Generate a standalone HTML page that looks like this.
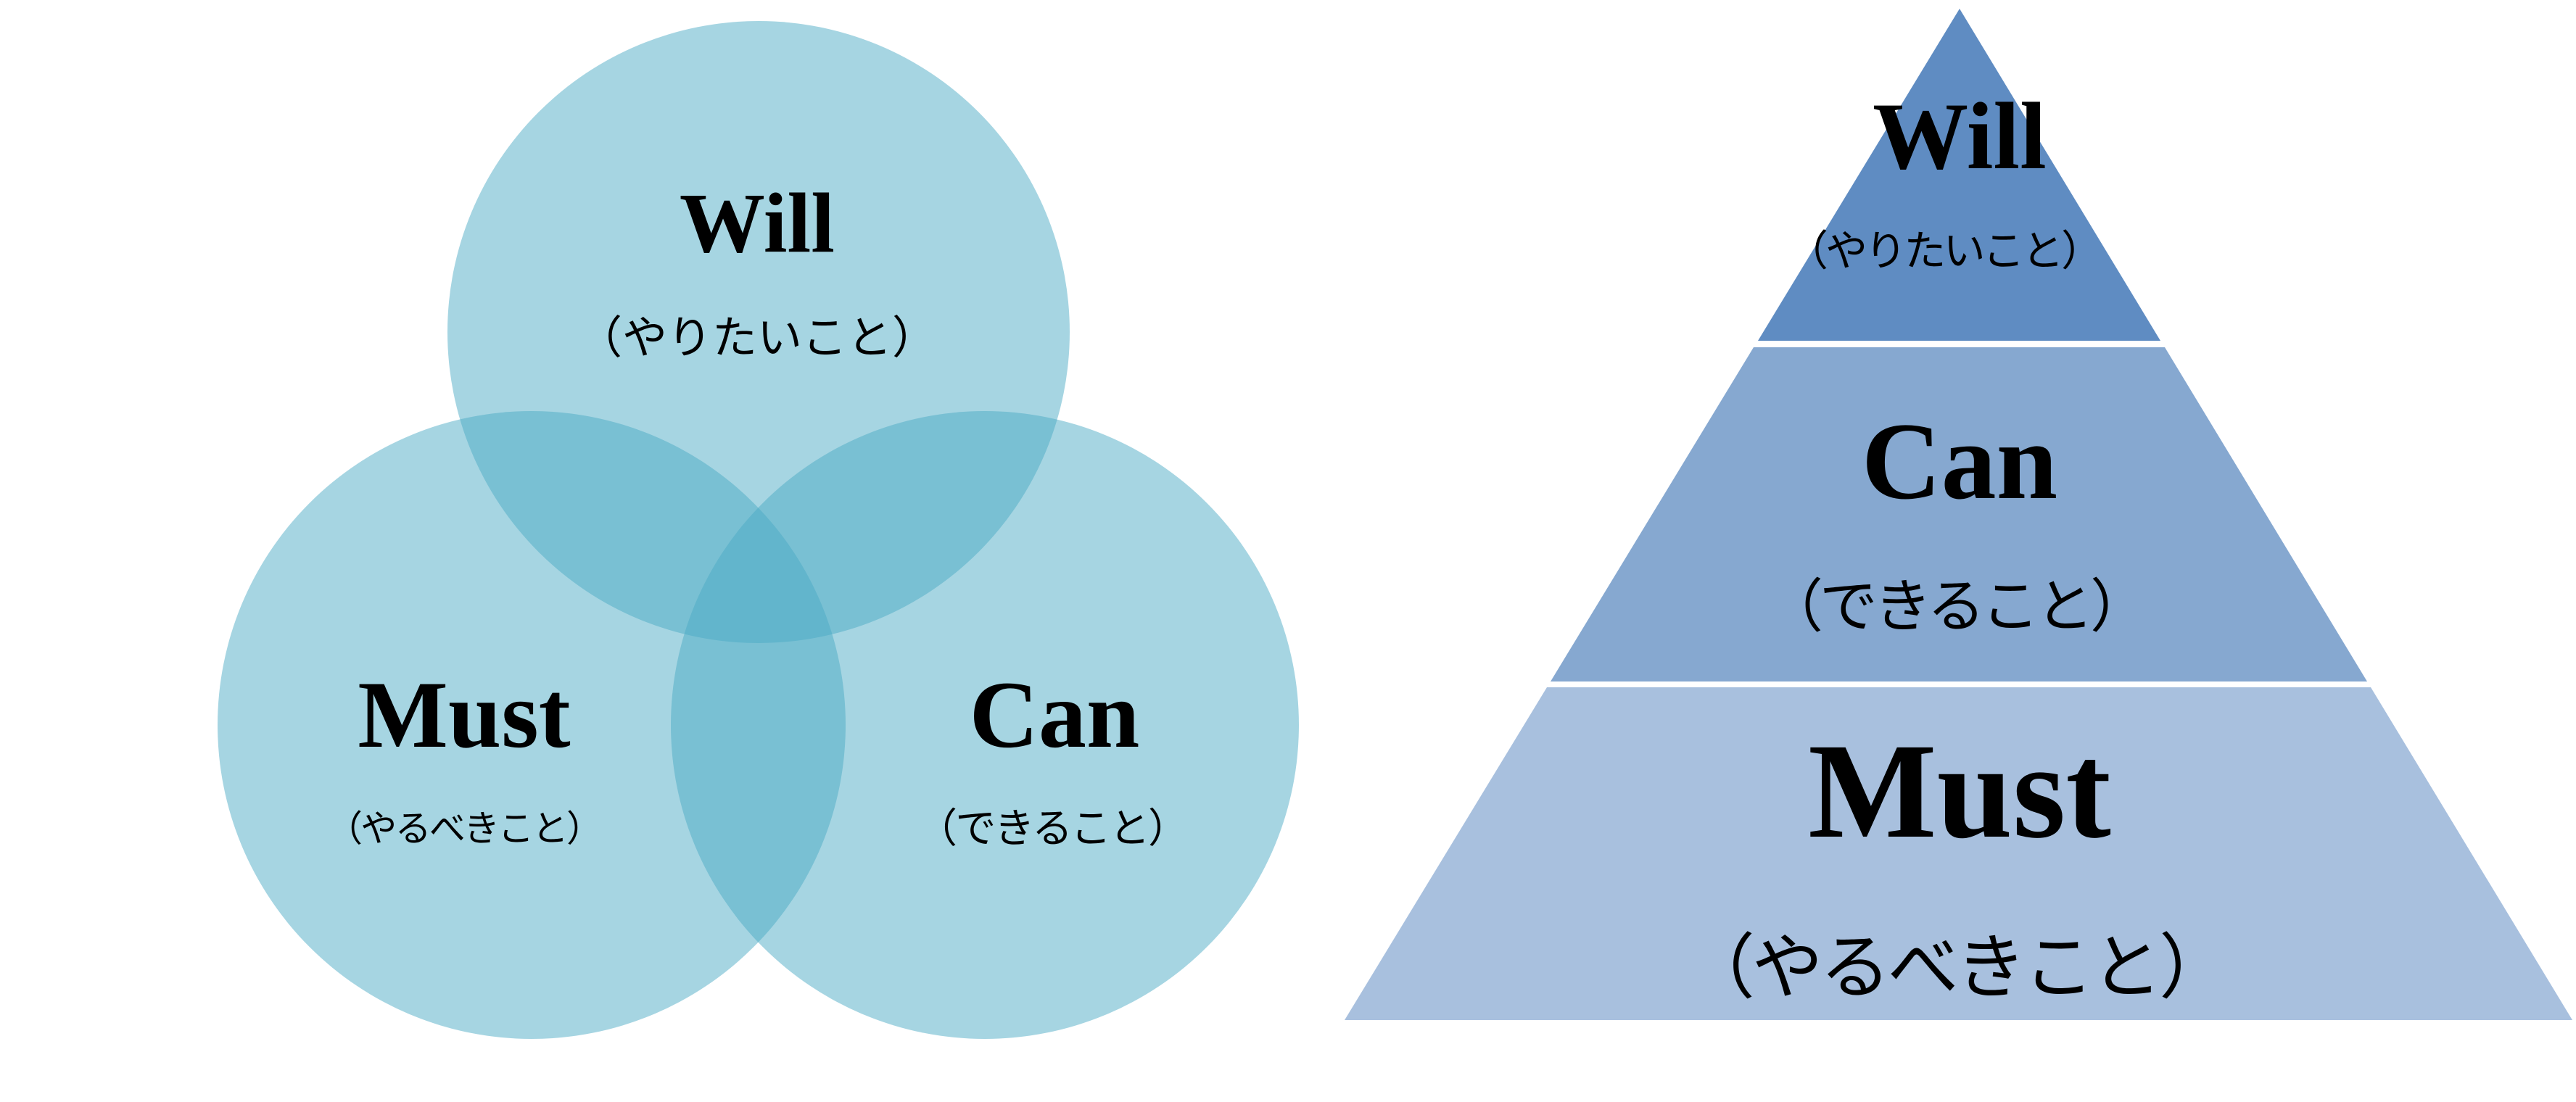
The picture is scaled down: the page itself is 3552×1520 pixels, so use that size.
<!DOCTYPE html>
<html><head><meta charset="utf-8"><style>html,body{margin:0;padding:0;background:#fff}svg{display:block}</style></head>
<body>
<svg width="3552" height="1520" viewBox="0 0 3552 1520" xmlns="http://www.w3.org/2000/svg">
<g fill="rgb(75,170,196)" fill-opacity="0.494">
<circle cx="1046" cy="458" r="429"/>
<circle cx="733" cy="1000" r="433"/>
<circle cx="1358" cy="1000" r="433"/>
</g>
<g font-family="'Liberation Serif', serif" font-weight="bold" fill="#000" text-anchor="middle">
<text x="1044" y="347" font-size="118">Will</text>
<text x="640" y="1030" font-size="132">Must</text>
<text x="1454" y="1030" font-size="132">Can</text>
</g>
<g font-family="'Liberation Sans','Noto Sans CJK JP',sans-serif" fill="#000">
<text x="796" y="487" font-size="62" textLength="496" lengthAdjust="spacing">（やりたいこと）</text>
<text x="450" y="1160" font-size="50" textLength="381" lengthAdjust="spacing">（やるべきこと）</text>
<text x="1264" y="1162" font-size="56" textLength="375" lengthAdjust="spacing">（できること）</text>
</g>
<polygon points="2702,12 2424,470 2979,470" fill="#5f8cc2"/>
<polygon points="2418,479 2985,479 3264,940 2138,940" fill="#86a8d0"/>
<polygon points="2133,948 3269,948 3547,1407 1854,1407" fill="#a8c0de"/>
<g font-family="'Liberation Serif', serif" font-weight="bold" fill="#000" text-anchor="middle">
<text x="2702" y="232" font-size="132">Will</text>
<text x="2702" y="687" font-size="152">Can</text>
<text x="2702" y="1154" font-size="188">Must</text>
</g>
<g font-family="'Liberation Sans','Noto Sans CJK JP',sans-serif" fill="#000">
<text x="2463" y="366" font-size="58" textLength="437" lengthAdjust="spacing">（やりたいこと）</text>
<text x="2434" y="864" font-size="80" textLength="528" lengthAdjust="spacing">（できること）</text>
<text x="2322" y="1368" font-size="98" textLength="753" lengthAdjust="spacing">（やるべきこと）</text>
</g>
</svg>
</body></html>
